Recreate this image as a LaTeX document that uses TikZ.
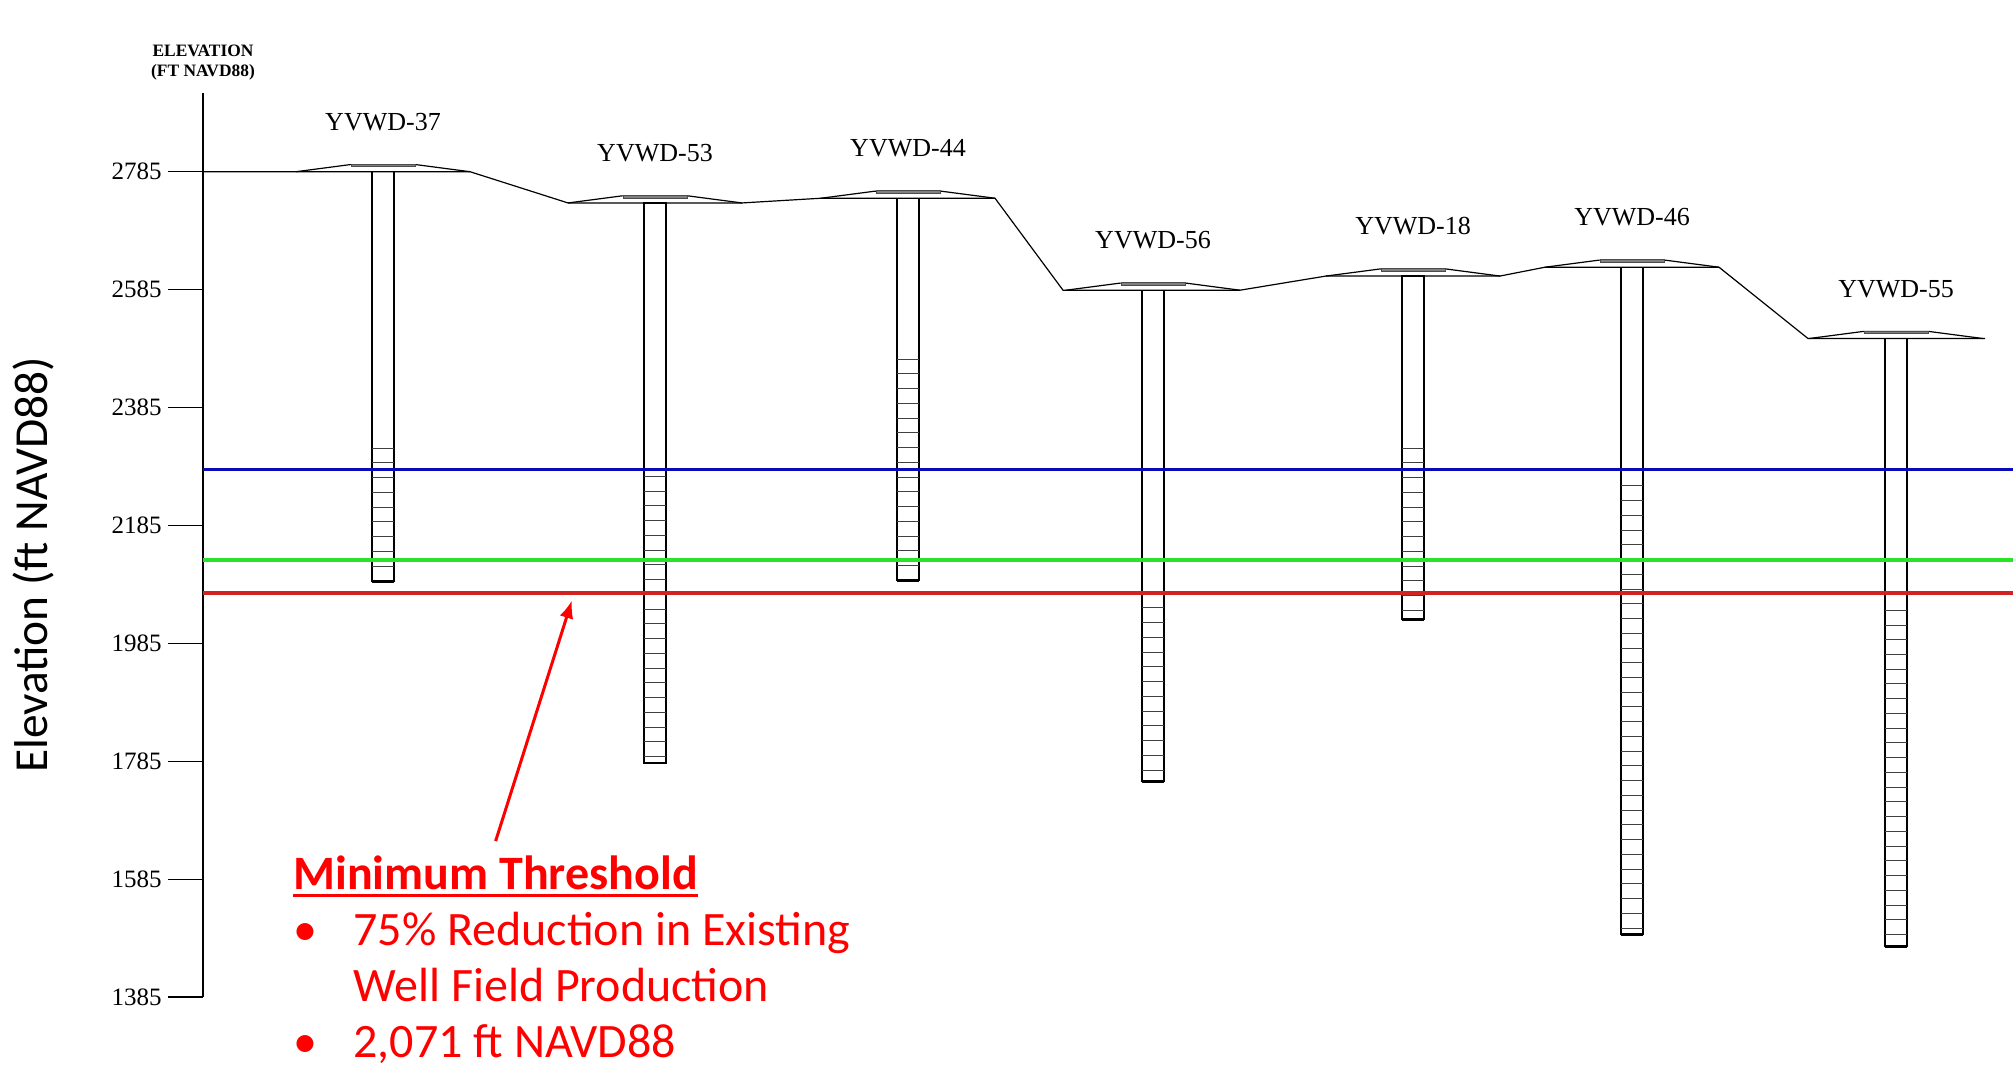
\documentclass[tikz,border=0pt]{standalone}
\usepackage{fontspec}
\setmainfont{Liberation Serif}
\newfontfamily\calibri{Carlito}
\usepackage{tikz}
\usetikzlibrary{arrows.meta,positioning,calc}
\definecolor{mtblue}{RGB}{10,10,185}
\definecolor{mtgreen}{RGB}{40,228,40}
\definecolor{mtred}{RGB}{210,35,35}
\definecolor{slidered}{RGB}{255,0,0}

\begin{document}
\begin{tikzpicture}[x=0.5pt,y=0.29475pt,>=Latex,
  ground/.style={line width=0.6pt},
  casing/.style={line width=0.6pt},
  screen/.style={line width=0.5pt,black!75},
  pad/.style={fill=black!50,draw=black!70,line width=0.3pt},
  level/.style={line width=1.9pt},
  wellname/.style={font=\fontsize{13}{15}\selectfont},
  ticklabel/.style={font=\fontsize{12.5}{15}\selectfont,anchor=east,inner sep=0pt},
  slide/.style={text=slidered,font=\calibri\fontsize{24}{28}\selectfont,inner sep=0pt}]
\useasboundingbox (0,1262.9) rectangle (2013,3076.3);

\coordinate (axtop) at (203,2918);
\coordinate (axbot) at (203,1385);
\draw[ground] (axtop) -- (axbot);
\node[above=3pt of axtop,align=center,font=\bfseries\fontsize{8.7}{9.8}\selectfont] (axtitle) {ELEVATION\\(FT NAVD88)};
\foreach \e in {2785,2585,...,1385} {
  \draw[ground] (168,\e) -- (203,\e);
  \node[ticklabel] at (162,\e) {\e};
}
\node[rotate=90,font=\calibri\fontsize{23.7}{28}\selectfont] (ylab) at (33,2118) {Elevation (ft NAVD88)};

\draw[ground] (203,2785) -- (470,2785) -- (568,2732) -- (742,2732) -- (821,2740) -- (995,2740) -- (1063,2584) -- (1240,2584) -- (1326,2608) -- (1500,2608) -- (1545,2623) -- (1719,2623) -- (1808,2502) -- (1985,2502);

\foreach \x/\g/\st/\sb/\n in {383/2785/2316/2090/37,655/2732/2268/1782/53,908/2740/2467/2092/44,1153/2584/2070/1751/56,1413/2608/2316/2025/18,1632/2623/2252/1491/46,1896/2502/2041/1471/55} {
  \draw[ground] (\x-87,\g) -- (\x-33,\g+12) -- (\x+33,\g+12) -- (\x+87,\g);
  \draw[pad] (\x-32,\g+8.5) rectangle (\x+32,\g+13);
  \draw[casing] (\x-11,\g) rectangle (\x+11,\sb);
  \pgfmathtruncatemacro\nscr{(\st-\sb)/25}
  \foreach \k in {0,...,\nscr}
    \draw[screen] (\x-11,\st-25*\k) -- (\x+11,\st-25*\k);
  \draw[line width=1.4pt] (\x-11,\sb) -- (\x+11,\sb);
  \coordinate (w\n) at (\x,\g);
  \node[wellname,above=17pt of w\n] (n\n) {YVWD-\n};
}

\draw[level,mtblue] (203,2280) -- (2013,2280);
\draw[level,mtgreen] (203,2126) -- (2013,2126);
\draw[level,mtred] (203,2071) -- (2013,2071);

\node[slide,anchor=base west] (mt) at (293,1568) {\bfseries Minimum Threshold};
\draw[slidered,line width=1.5pt] ([yshift=-3pt]mt.base west) -- ([yshift=-3pt]mt.base east);
\node[slide,anchor=base west] (l1) at ([xshift=30pt,yshift=-28pt]mt.base west) {75\% Reduction in Existing};
\node[slide,anchor=base west] (l2) at ([yshift=-28pt]l1.base west) {Well Field Production};
\node[slide,anchor=base west] (l3) at ([yshift=-28pt]l2.base west) {2,071 ft NAVD88};
\node[slide,anchor=base west] (b1) at ([xshift=-30pt]l1.base west) {\textbullet};
\node[slide,anchor=base west] (b3) at ([xshift=-30pt]l3.base west) {\textbullet};
\coordinate (mtip) at (572,2058);
\draw[slidered,line width=1.5pt,-{Latex[length=9pt,width=7pt]}] ([yshift=7pt]mt.north) -- (mtip);
\end{tikzpicture}
\end{document}
